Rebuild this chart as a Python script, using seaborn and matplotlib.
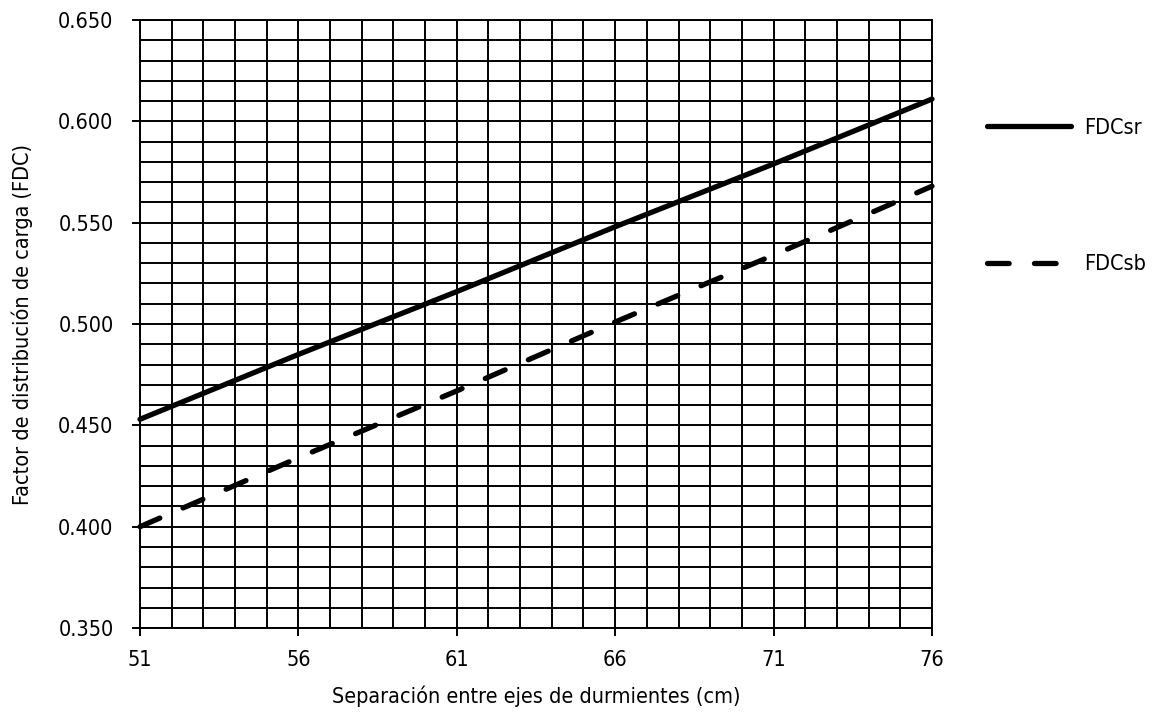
import numpy as np
import pandas as pd
import matplotlib
matplotlib.use("Agg")
import matplotlib.pyplot as plt
from matplotlib.ticker import MultipleLocator
import seaborn as sns

# Datos
separacion = [51, 56, 61, 66, 71, 76]
fdc_sr = [0.453, 0.485, 0.516, 0.548, 0.579, 0.611]
fdc_sb = [0.400, 0.434, 0.467, 0.501, 0.534, 0.568]
x_ticks = [51, 56, 61, 66, 71, 76]
y_ticks = [0.350, 0.400, 0.450, 0.500, 0.550, 0.600, 0.650]

sns.set_style("white")
plt.rcParams['font.family'] = ['DejaVu Sans']
plt.rcParams['font.stretch'] = 'condensed'

fs = 15.5
lw = 3.8

fig = plt.figure(figsize=(11.54, 7.18), dpi=100)
ax = fig.add_axes([0.1213, 0.1253, 0.6863, 0.8468])

df_sr = pd.DataFrame({'x': separacion, 'y': fdc_sr})
df_sb = pd.DataFrame({'x': separacion, 'y': fdc_sb})

sns.lineplot(data=df_sr, x='x', y='y', ax=ax, color='black', lw=lw,
             label='FDCsr', zorder=5, clip_on=False)
sns.lineplot(data=df_sb, x='x', y='y', ax=ax, color='black', lw=lw,
             label='FDCsb', zorder=5, clip_on=False)

# estilos de línea: continua y a trazos con extremos redondeados
linea_sr, linea_sb = ax.lines[0], ax.lines[1]
linea_sr.set_solid_capstyle('round')
linea_sb.set_linestyle((0, (4.1, 4.8)))
linea_sb.set_dash_capstyle('round')

ax.set_xlim(51, 76)
ax.set_ylim(0.350, 0.650)
ax.set_xticks(x_ticks)
ax.set_yticks(y_ticks)
ax.set_yticklabels([f"{v:.3f}" for v in y_ticks])
ax.xaxis.set_minor_locator(MultipleLocator(1))
ax.yaxis.set_minor_locator(MultipleLocator(0.01))
ax.grid(True, which='both', color='black', lw=1.4)
ax.set_axisbelow(True)
for s in ax.spines.values():
    s.set_color('black')
    s.set_linewidth(1.4)

ax.tick_params(axis='both', which='major', direction='out', length=6, width=1.4,
               color='black', labelsize=fs, labelcolor='black',
               bottom=True, left=True)
ax.tick_params(axis='y', which='major', pad=13)
ax.tick_params(axis='x', which='major', pad=10)
ax.tick_params(axis='both', which='minor', length=0)

ax.set_xlabel('Separación entre ejes de durmientes (cm)', fontsize=fs, labelpad=11, color='black')
ax.set_ylabel('Factor de distribución de carga (FDC)', fontsize=fs, labelpad=18, color='black')

leg = ax.legend(loc='center left', bbox_to_anchor=(987 / 1154, 1 - 196 / 718),
                bbox_transform=fig.transFigure, frameon=False, fontsize=fs,
                handlelength=3.9, handletextpad=0.6, labelspacing=5.4,
                borderpad=0, borderaxespad=0)
for t in leg.get_texts():
    t.set_color('black')

fig.savefig('out.png', dpi=100)
